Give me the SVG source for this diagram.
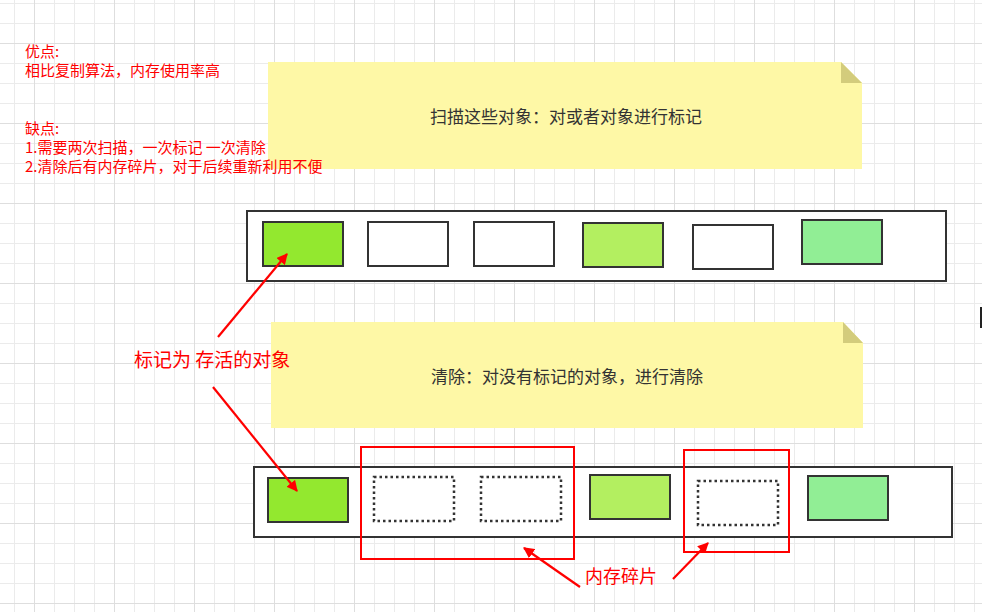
<svg xmlns="http://www.w3.org/2000/svg" width="982" height="612" viewBox="0 0 982 612">
  <defs>
    <pattern id="gridMinor" patternUnits="userSpaceOnUse" x="14" y="3" width="20" height="20">
      <path d="M0 0.5H20M0.5 0V20" stroke="#ebebeb" stroke-width="1" fill="none"/>
    </pattern>
    <pattern id="gridMajor" patternUnits="userSpaceOnUse" x="34" y="43" width="80" height="80">
      <path d="M0 0.5H80M0.5 0V80" stroke="#dedede" stroke-width="1" fill="none"/>
    </pattern>
    <marker id="redArrow" viewBox="0 0 10 10" refX="9" refY="5" markerWidth="5" markerHeight="5" orient="auto" markerUnits="strokeWidth">
      <path d="M0 0L10 5L0 10z" fill="#ff0000"/>
    </marker>
  </defs>
  <style>
    .red { font-family: "Noto Sans CJK SC", "Noto Sans", sans-serif; fill: #ff0000; }
    .note { fill: #fef8a6; }
    .fold { fill: #d3cc7c; }
    .noteText { font-family: "Noto Sans CJK SC", "Noto Sans", sans-serif; font-size: 17px; fill: #333333; text-anchor: middle; }
    .outer { fill: #ffffff; stroke: #333333; stroke-width: 2; }
    .box { stroke: #333333; stroke-width: 2; }
    .dotted { fill: #ffffff; stroke: #333333; stroke-width: 2.5; stroke-dasharray: 2.5 3; }
    .redRect { fill: none; stroke: #ff0000; stroke-width: 2; }
    .arrow { stroke: #ff0000; stroke-width: 2.2; fill: none; marker-end: url(#redArrow); }
  </style>

  <rect x="0" y="0" width="982" height="612" fill="#ffffff"/>
  <rect x="0" y="0" width="982" height="612" fill="url(#gridMinor)"/>
  <rect x="0" y="0" width="982" height="612" fill="url(#gridMajor)"/>
  <rect x="980" y="307" width="2" height="21" fill="#222222"/>

  <g id="note-mark">
    <polygon class="note" points="268,62 841,62 862,83 862,169 268,169"/>
    <polygon class="fold" points="841,62 862,83 841,83"/>
    <text class="noteText" x="566" y="123">扫描这些对象：对或者对象进行标记</text>
  </g>

  <g id="note-sweep">
    <polygon class="note" points="271,322 843,322 863,343 863,428 271,428"/>
    <polygon class="fold" points="843,322 863,343 843,343"/>
    <text class="noteText" x="567" y="383">清除：对没有标记的对象，进行清除</text>
  </g>

  <g id="pros-cons">
    <text class="red" font-size="15" x="25" y="57">优点:</text>
    <text class="red" font-size="15" x="25" y="76">相比复制算法，内存使用率高</text>
    <text class="red" font-size="15" x="25" y="134">缺点:</text>
    <text class="red" font-size="15" x="25" y="153">1.需要两次扫描，一次标记 一次清除</text>
    <text class="red" font-size="15" x="25" y="172">2.清除后有内存碎片，对于后续重新利用不便</text>
  </g>

  <g id="heap-before">
    <rect class="outer" x="247" y="211" width="699" height="70"/>
    <rect id="b1" class="box" x="263" y="222" width="80" height="44" fill="#93e82f"/>
    <rect id="b2" class="box" x="368" y="222" width="80" height="44" fill="#ffffff"/>
    <rect id="b3" class="box" x="474" y="222" width="80" height="44" fill="#ffffff"/>
    <rect id="b4" class="box" x="583" y="223" width="80" height="44" fill="#b3ef60"/>
    <rect id="b5" class="box" x="693" y="225" width="80" height="44" fill="#ffffff"/>
    <rect id="b6" class="box" x="802" y="220" width="80" height="44" fill="#91ee95"/>
  </g>

  <g id="heap-after">
    <rect class="outer" x="254" y="467" width="698" height="70"/>
    <rect id="a1" class="box" x="268" y="478" width="80" height="44" fill="#93e82f"/>
    <rect id="a2" class="dotted" x="374" y="477" width="80" height="44"/>
    <rect id="a3" class="dotted" x="481" y="477" width="80" height="44"/>
    <rect id="a4" class="box" x="590" y="475" width="80" height="44" fill="#b3ef60"/>
    <rect id="a5" class="dotted" x="698" y="481" width="80" height="44"/>
    <rect id="a6" class="box" x="808" y="476" width="80" height="44" fill="#91ee95"/>
  </g>

  <g id="fragments">
    <rect class="redRect" x="361" y="447" width="213" height="112"/>
    <rect class="redRect" x="684" y="450" width="105" height="102"/>
  </g>

  <g id="label-alive">
    <text class="red" font-size="19" x="134" y="367">标记为 存活的对象</text>
  </g>

  <g id="label-fragment">
    <text class="red" font-size="18" x="585" y="583">内存碎片</text>
  </g>

  <g id="connectors">
    <line class="arrow" x1="218" y1="337" x2="287" y2="254"/>
    <line class="arrow" x1="213" y1="387" x2="297" y2="491"/>
    <line class="arrow" x1="580" y1="587" x2="524" y2="548"/>
    <line class="arrow" x1="673" y1="579" x2="708" y2="543"/>
  </g>
</svg>
